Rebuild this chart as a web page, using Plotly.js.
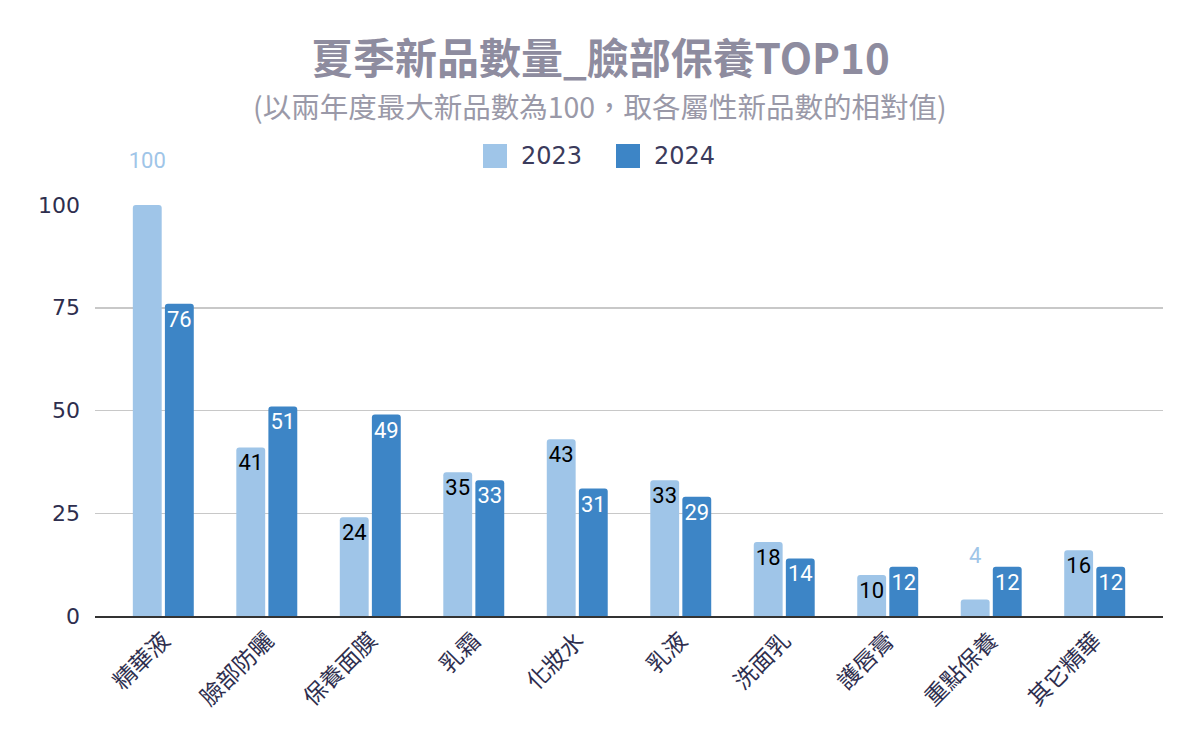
<!DOCTYPE html>
<html><head><meta charset="utf-8">
<script src="https://cdn.plot.ly/plotly-3.0.1.min.js"></script>
<style>html,body{margin:0;padding:0;background:#fff}#c{width:1200px;height:742px}</style>
</head><body><div id="c"></div>
<script>
const categories = ['精華液','臉部防曬','保養面膜','乳霜','化妝水','乳液','洗面乳','護唇膏','重點保養','其它精華'];
const values2023 = [100,41,24,35,43,33,18,10,4,16];
const values2024 = [76,51,49,33,31,29,14,12,12,12];
const seriesNames = ['2023','2024'];
const yTicks = [0,25,50,75,100];
const c23 = '#9fc5e8', c24 = '#3d85c6';

function pos(vals){ return vals.map(v => (v >= 95 || v < 8) ? 'outside' : 'inside'); }
// outside labels sit higher above the bar (blank line below them)
function labels(vals){ return vals.map(v => (v >= 95 || v < 8) ? String(v) + '<br> ' : String(v)); }
const lblFont = 'Roboto, Noto Sans';

const t1 = {
  type:'bar', name:seriesNames[0], x:categories, y:values2023, marker:{color:c23, line:{width:0}, cornerradius:3},
  text:labels(values2023), textposition:pos(values2023), insidetextanchor:'end',
  insidetextfont:{color:'#000000', size:22, family:lblFont},
  outsidetextfont:{color:c23, size:22, family:lblFont},
  constraintext:'none', cliponaxis:false, hoverinfo:'none'
};
const t2 = {
  type:'bar', name:seriesNames[1], x:categories, y:values2024, marker:{color:c24, line:{width:0}, cornerradius:3},
  text:labels(values2024), textposition:pos(values2024), insidetextanchor:'end',
  insidetextfont:{color:'#ffffff', size:22, family:lblFont},
  outsidetextfont:{color:c24, size:22, family:lblFont},
  constraintext:'none', cliponaxis:false, hoverinfo:'none'
};

// plot area geometry (pixels) for legend/title placement
const L = 95, R = 1163, T = 205, B = 616;
const px = x => (x - L) / (R - L);
const py = y => (B - y) / (B - T);
const legendItems = [{x:483, color:c23, name:seriesNames[0]}, {x:616, color:c24, name:seriesNames[1]}];
const shapes = legendItems.map(it => ({
  type:'rect', xref:'paper', yref:'paper', x0:px(it.x), x1:px(it.x+24), y0:py(168), y1:py(144),
  fillcolor:it.color, line:{width:0}, layer:'above'
}));
const legendAnn = legendItems.map(it => ({
  text:it.name, xref:'paper', yref:'paper', x:px(it.x+36), y:py(156), xanchor:'left', yanchor:'middle',
  showarrow:false, font:{size:24, color:'#3b3b5c', family:'DejaVu Sans'}
}));

const layout = {
  width:1200, height:742,
  margin:{l:L, r:1200-R, t:T, b:742-B},
  paper_bgcolor:'#ffffff', plot_bgcolor:'#ffffff',
  barmode:'group', bargap:0.38, bargroupgap:0.1,
  showlegend:false,
  xaxis:{range:[-0.66, 9.66], tickangle:-45, showgrid:false, showline:true, linecolor:'#333333', linewidth:2,
    tickfont:{size:23, color:'#2e2e4e', family:'Noto Sans CJK TC'}, ticks:'', fixedrange:true},
  yaxis:{range:[0,100], tickvals:yTicks, ticktext:yTicks.map(String), showgrid:true, gridcolor:'#c8c8c8', gridwidth:1.5,
    zeroline:false, showline:false, tickfont:{size:22, color:'#2e2e4e', family:'DejaVu Sans'}, ticks:'', ticklabelstandoff:14},
  shapes: shapes,
  annotations:[
    {text:'<b>夏季新品數量_臉部保養TOP10</b>', xref:'paper', yref:'paper', x:px(600), y:py(55), xanchor:'center', yanchor:'middle',
     showarrow:false, font:{size:42, color:'#8e8c9f', family:'Noto Sans CJK TC'}},
    {text:'(以兩年度最大新品數為100，取各屬性新品數的相對值)', xref:'paper', yref:'paper', x:px(600), y:py(105), xanchor:'center', yanchor:'middle',
     showarrow:false, font:{size:28.5, color:'#9a99a8', family:'Noto Sans CJK TC'}}
  ].concat(legendAnn)
};
Plotly.newPlot('c', [t1, t2], layout, {displayModeBar:false, staticPlot:true});
</script></body></html>
